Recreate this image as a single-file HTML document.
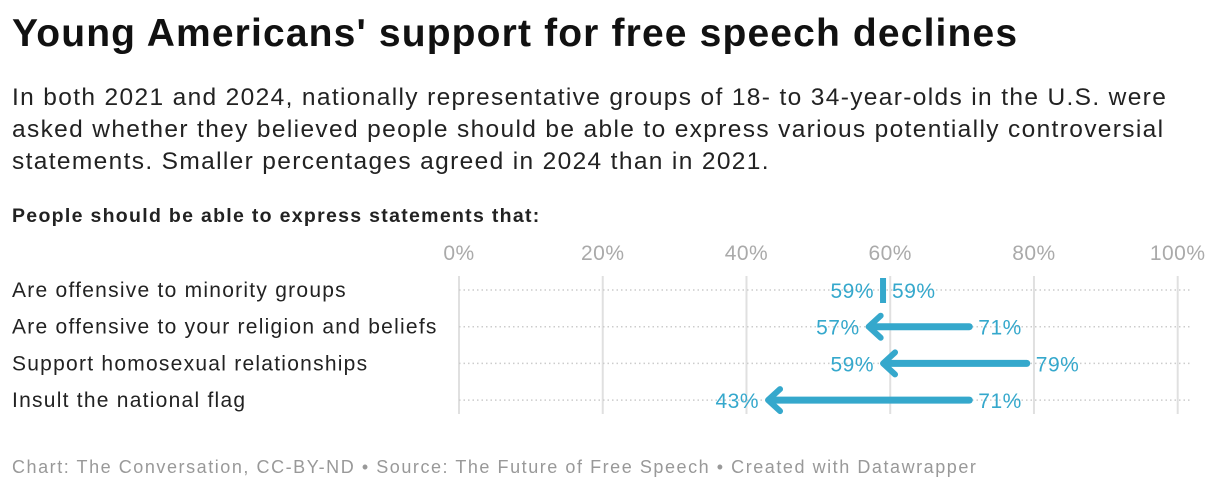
<!DOCTYPE html>
<html><head><meta charset="utf-8"><style>
body{margin:0;width:1220px;height:492px;background:#fff;font-family:"Liberation Sans",sans-serif;overflow:hidden;position:relative}
.t{position:absolute;left:12px;top:12px;font-size:39px;font-weight:bold;color:#111;letter-spacing:1.15px;white-space:nowrap}
.d{position:absolute;left:12px;top:82px;font-size:24.5px;line-height:32px;color:#222;letter-spacing:1.35px;white-space:nowrap}
.s{position:absolute;left:12px;top:205px;font-size:19.5px;font-weight:bold;color:#222;letter-spacing:1.3px;white-space:nowrap}
.f{position:absolute;left:12px;top:457px;font-size:18px;color:#999;letter-spacing:1.55px;white-space:nowrap}
svg{position:absolute;left:0;top:0}
</style></head><body>
<div class="t">Young Americans' support for free speech declines</div>
<div class="d">In both 2021 and 2024, nationally representative groups of 18- to 34-year-olds in the U.S. were<br>asked whether they believed people should be able to express various potentially controversial<br>statements. Smaller percentages agreed in 2024 than in 2021.</div>
<div class="s">People should be able to express statements that:</div>
<div class="f">Chart: The Conversation, CC-BY-ND • Source: The Future of Free Speech • Created with Datawrapper</div>
<svg id="c" width="1220" height="492"></svg>
<script>
const categories=["Are offensive to minority groups","Are offensive to your religion and beliefs","Support homosexual relationships","Insult the national flag"];
const values2021=[59,71,79,71];
const values2024=[59,57,59,43];
const ticks=[0,20,40,60,80,100];
const NS="http://www.w3.org/2000/svg",svg=document.getElementById('c');
const x=v=>459+v*7.187, y=i=>290+i*36.7, col="#35a8cc";
function mk(t,a){const e=document.createElementNS(NS,t);for(const k in a)e.setAttribute(k,a[k]);svg.appendChild(e);return e;}
ticks.forEach(t=>{
 const l=mk('line',{x1:x(t),x2:x(t),y1:276,y2:414,stroke:'#e0e0e0','stroke-width':2});
 
 
 const tx=mk('text',{x:x(t),y:260,'text-anchor':'middle','font-size':21,fill:'#aaa','font-family':'Liberation Sans','letter-spacing':'0.5'});
 tx.textContent=t+'%';
 
 
});
categories.forEach((c,i)=>{
 const yy=y(i);
 const d=mk('line',{x1:459,x2:1190,y1:yy,y2:yy,stroke:'#ccc','stroke-width':1.5,'stroke-dasharray':'1.5 3'});
 
 
 const lb=mk('text',{x:12,y:yy+7,'font-size':21,fill:'#222','font-family':'Liberation Sans','letter-spacing':'1.25'});
 lb.textContent=c;
 
 
 const a=values2021[i],b=values2024[i];
 if(a===b){
  const r=mk('rect',{x:x(a)-3,y:yy-12,width:6,height:25,fill:col});
  
  
 } else {
  const dir=b<a?-1:1;
  const ln=mk('line',{x1:x(a),x2:x(b)-dir*2,y1:yy,y2:yy,stroke:col,'stroke-width':7,'stroke-linecap':'round'});
  
  
  const hd=mk('polyline',{points:`${x(b)-dir*12},${yy-11} ${x(b)},${yy} ${x(b)-dir*12},${yy+11}`,fill:'none',stroke:col,'stroke-width':6,'stroke-linecap':'round','stroke-linejoin':'round'});
  
  
 }
 const l1=mk('text',{x:x(a)+9,y:yy+8,'font-size':21,fill:col,'font-family':'Liberation Sans','letter-spacing':'0.5'});
 l1.textContent=a+'%';
 
 
 const l2=mk('text',{x:x(b)-9,y:yy+8,'text-anchor':'end','font-size':21,fill:col,'font-family':'Liberation Sans','letter-spacing':'0.5'});
 l2.textContent=b+'%';
 
 
});
</script>
</body></html>
